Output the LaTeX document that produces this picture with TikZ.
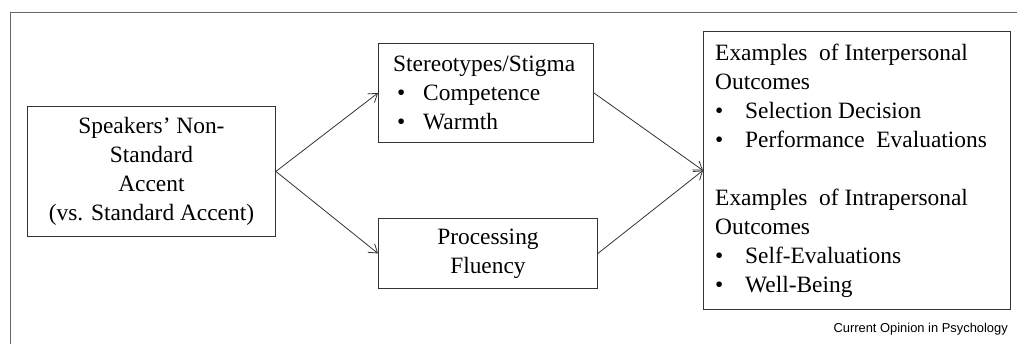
\documentclass[tikz,border=0pt]{standalone}
\usepackage{fontspec}
\setmainfont{Liberation Serif}
\newfontfamily\capfont{Liberation Sans}
\usetikzlibrary{arrows.meta}

\newcommand{\bulA}{\makebox[30pt][l]{\textbullet}}
\newcommand{\bulB}{\hspace*{4pt}\makebox[26pt][l]{\textbullet}}

\begin{document}
\begin{tikzpicture}[x=1pt,y=-1pt,
    box/.style={draw=black!80,line width=0.9pt,inner sep=0pt,anchor=north west},
    txt/.style={font=\fontsize{23.4}{29}\selectfont,inner sep=0pt},
    link/.style={draw=black!80,line width=0.8pt,-{Straight Barb[length=8pt,width=11pt]}}]
    \useasboundingbox (0,0) rectangle (1017,344);
    \draw[black!60,line width=1pt] (10,344) -- (10,13) -- (1017,13);

    % boxes
    \node[box,minimum width=248,minimum height=130] (accent) at (27,106) {};
    \node[box,minimum width=215,minimum height=99] (stigma) at (378,43) {};
    \node[box,minimum width=219,minimum height=70] (fluency) at (378,218) {};
    \node[box,minimum width=307,minimum height=278] (outcome) at (703,31) {};

    % texts
    \node[txt,align=center] (accenttxt) at (accent.center)
        {Speakers' Non-\\Standard\\Accent\\(vs. Standard Accent)};
    \node[txt,align=left,anchor=west] (stigmatxt) at ([xshift=15]stigma.west)
        {Stereotypes/Stigma\\\bulB Competence\\\bulB Warmth};
    \node[txt,align=center] (fluencytxt) at (fluency.center) {Processing\\Fluency};
    \node[txt,align=left,anchor=west] (outcometxt) at ([xshift=12]outcome.west)
        {Examples\ \ of Interpersonal\\Outcomes\\\bulA Selection Decision\\\bulA Performance\ \ Evaluations\\[29pt]
         Examples\ \ of Intrapersonal\\Outcomes\\\bulA Self-Evaluations\\\bulA Well-Being};

    % arrows
    \draw[link] (accent.east) -- (stigma.west);
    \draw[link] (accent.east) -- (fluency.west);
    \draw[link] (stigma.east) -- (outcome.west);
    \draw[link] (fluency.east) -- (outcome.west);

    \node[font=\capfont\fontsize{12.9}{15}\selectfont,anchor=base east,inner sep=0pt] (source)
        at (1008,333) {Current Opinion in Psychology};
\end{tikzpicture}
\end{document}
